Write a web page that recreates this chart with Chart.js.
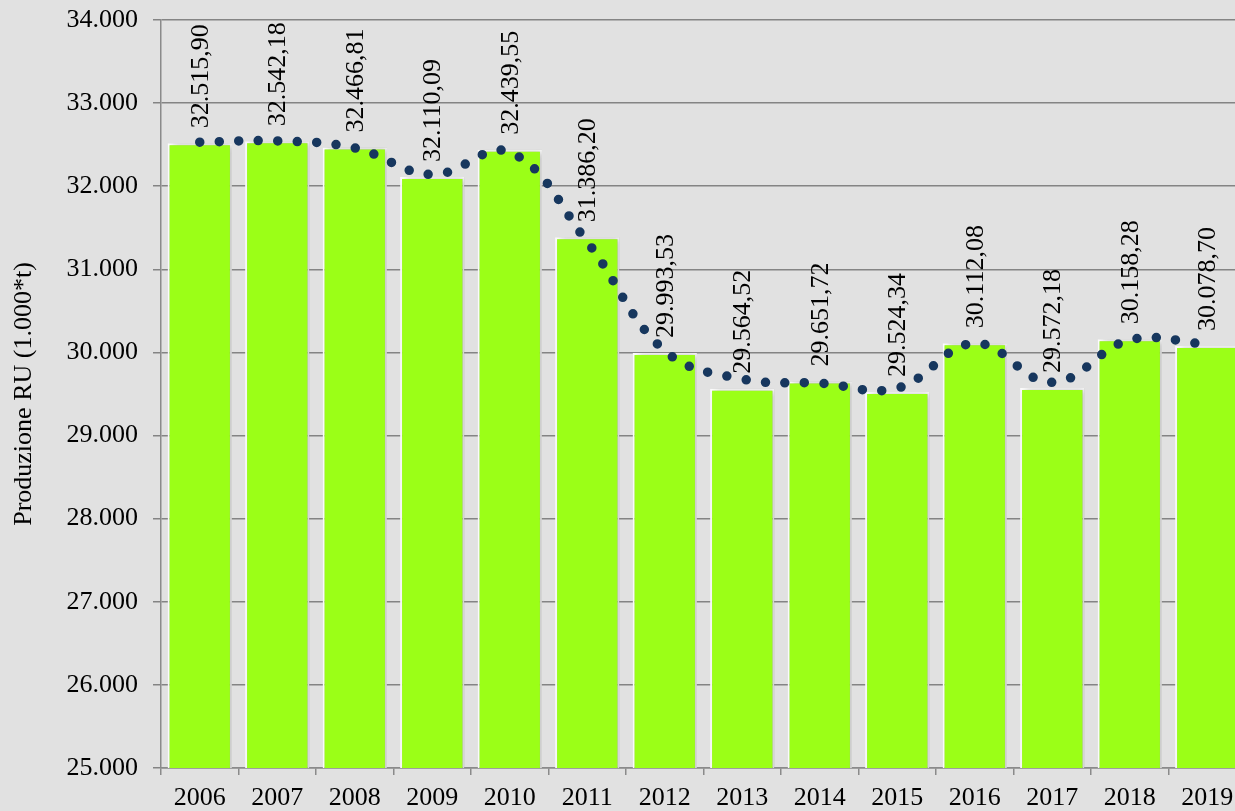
<!doctype html>
<html>
<head>
    <title>Produzione RU</title>
    <script src="https://cdn.jsdelivr.net/npm/chart.js@4.4.1/dist/chart.umd.min.js"></script>
    <style>
    html, body {
        margin: 0;
        padding: 0;
        overflow: hidden;
        background: #e1e1e1;
    }
    canvas { display: block; }
    </style>
</head>
<body>
    <canvas id="chart-area" width="1250" height="811"></canvas>
    <script>
    // dati
    var anni = ["2006", "2007", "2008", "2009", "2010", "2011", "2012", "2013", "2014", "2015", "2016", "2017", "2018", "2019"];
    var produzione = [32515.90, 32542.18, 32466.81, 32110.09, 32439.55, 31386.20, 29993.53, 29564.52, 29651.72, 29524.34, 30112.08, 29572.18, 30158.28, 30078.70];
    // linea di tendenza
    var tendenza = [32530, 32545, 32460, 32140, 32410, 31330, 30020, 29680, 29630, 29570, 30110, 29640, 30150, 30100];
    var tickY = [25000, 26000, 27000, 28000, 29000, 30000, 31000, 32000, 33000, 34000];

    var font = '"Liberation Serif", "Times New Roman", serif';

    function fmt(n, dec) {
        var s = n.toFixed(dec);
        var parts = s.split(".");
        var intPart = parts[0].replace(/\B(?=(\d{3})+(?!\d))/g, ".");
        return dec > 0 ? intPart + "," + parts[1] : intPart;
    }

    var barShadow = {
        id: 'barShadow',
        beforeDatasetDraw: function(chart, args) {
            if (args.index !== 0) return;
            var ctx = chart.ctx;
            ctx.save();
            ctx.shadowColor = 'rgba(0,0,0,0.28)';
            ctx.shadowBlur = 7;
            ctx.shadowOffsetX = 3;
            ctx.shadowOffsetY = 0;
        },
        afterDatasetDraw: function(chart, args) {
            if (args.index !== 0) return;
            chart.ctx.restore();
        }
    };

    var valueLabels = {
        id: 'valueLabels',
        afterDatasetsDraw: function(chart) {
            var meta = chart.getDatasetMeta(0);
            var ctx = chart.ctx;
            ctx.save();
            ctx.font = '26px ' + font;
            ctx.fillStyle = '#000';
            ctx.textAlign = 'left';
            ctx.textBaseline = 'middle';
            meta.data.forEach(function(bar, i) {
                ctx.save();
                ctx.translate(bar.x + 1, bar.y - 15);
                ctx.rotate(-Math.PI / 2);
                ctx.fillText(fmt(produzione[i], 2), 0, 0);
                ctx.restore();
            });
            ctx.restore();
        }
    };

    var config = {
        type: 'bar',
        data: {
            labels: anni,
            datasets: [{
                type: 'bar',
                data: produzione,
                backgroundColor: '#9bff17',
                borderColor: '#ffffff',
                borderWidth: 2,
                barPercentage: 0.83,
                categoryPercentage: 1,
                order: 2
            }, {
                type: 'line',
                data: tendenza,
                borderColor: '#17375e',
                borderWidth: 9.5,
                borderDash: [0, 19.5],
                borderCapStyle: 'round',
                pointRadius: 0,
                tension: 0.4,
                fill: false,
                order: 1
            }]
        },
        options: {
            responsive: false,
            animation: false,
            layout: {
                padding: { left: 5, right: 4, top: 20, bottom: 0 }
            },
            plugins: {
                legend: { display: false },
                tooltip: { enabled: false }
            },
            scales: {
                x: {
                    offset: true,
                    grid: {
                        display: true,
                        drawOnChartArea: false,
                        color: '#8a8a8a',
                        lineWidth: 1.5,
                        tickLength: 7,
                        offset: true
                    },
                    border: { color: '#8a8a8a', width: 1.5 },
                    ticks: {
                        color: '#000',
                        font: { family: font, size: 26 },
                        padding: 8,
                        maxRotation: 0
                    },
                    afterFit: function(scale) { scale.height = 43; }
                },
                y: {
                    min: 25000,
                    max: 34000,
                    afterBuildTicks: function(scale) {
                        scale.ticks = tickY.map(function(v) { return { value: v }; });
                    },
                    grid: {
                        color: '#848484',
                        lineWidth: 1.5,
                        tickLength: 8
                    },
                    border: { color: '#8a8a8a', width: 1.5 },
                    ticks: {
                        color: '#000',
                        font: { family: font, size: 26 },
                        padding: 15,
                        callback: function(v) { return fmt(v, 0); }
                    },
                    title: {
                        display: true,
                        text: 'Produzione RU (1.000*t)',
                        color: '#000',
                        font: { family: font, size: 26 },
                        padding: { top: 4, bottom: 4 }
                    },
                    afterFit: function(scale) {
                        scale.width = 156;
                        scale.paddingTop = 0;
                        scale.paddingBottom = 0;
                    }
                }
            }
        },
        plugins: [barShadow, valueLabels]
    };

    window.onload = function() {
        var ctx = document.getElementById("chart-area").getContext("2d");
        window.myChart = new Chart(ctx, config);
    };
    </script>
</body>
</html>
